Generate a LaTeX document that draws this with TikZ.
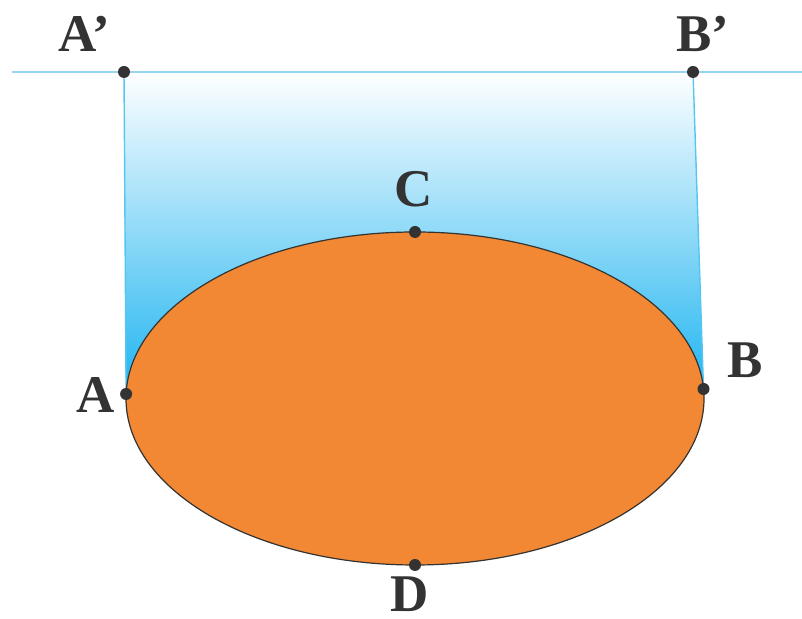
\documentclass[tikz,border=0pt]{standalone}
\usepackage{fontspec}
\setmainfont{Liberation Serif}
\definecolor{skyblue}{RGB}{30,180,240}
\definecolor{edgeblue}{RGB}{85,198,242}
\definecolor{lineblue}{RGB}{150,212,242}
\definecolor{pumpkin}{RGB}{243,136,52}
\definecolor{ink}{RGB}{51,51,51}
\tikzset{x=0.5pt, y=0.5pt, every node/.append style={font=\fontsize{26.5}{30}\selectfont\bfseries, text=ink, inner sep=0pt}}

\begin{document}
\begin{tikzpicture}
    \useasboundingbox (0,0) rectangle (802,619);
    % points
    \coordinate (west) at (12,547);
    \coordinate (east) at (802,547);
    \coordinate (Ap) at (124,547);
    \coordinate (Bp) at (693,547);
    \coordinate (O) at (415,220.5);
    \coordinate (A) at (126.1,225);
    \coordinate (B) at (703.5,230);
    \coordinate (C) at (415,387);
    \coordinate (D) at (415,54);
    % shaded band
    \fill[top color=white, bottom color=skyblue] (Ap) -- (A) -- (B) -- (Bp) -- cycle;
    \draw[lineblue, line width=0.7] (west) -- (east);
    \draw[edgeblue, line width=0.7] (Ap) -- (A) (B) -- (Bp);
    % ellipse
    \draw[ink, line width=0.6, fill=pumpkin] (O) ellipse [x radius=289, y radius=166.5];
    \foreach \p in {Ap,Bp,A,B,C,D}
        \fill[ink] (\p) circle (6);
    % labels
    \node[anchor=base] (lAp) at (84.5,567) {A’};
    \node[anchor=base] (lBp) at (702.5,567) {B’};
    \node[anchor=base] (lA) at (95.5,206) {A};
    \node[anchor=base] (lB) at (745.5,241) {B};
    \node[anchor=base] (lC) at (413.5,412) {C};
    \node[anchor=base] (lD) at (409.5,7) {D};
\end{tikzpicture}
\end{document}
